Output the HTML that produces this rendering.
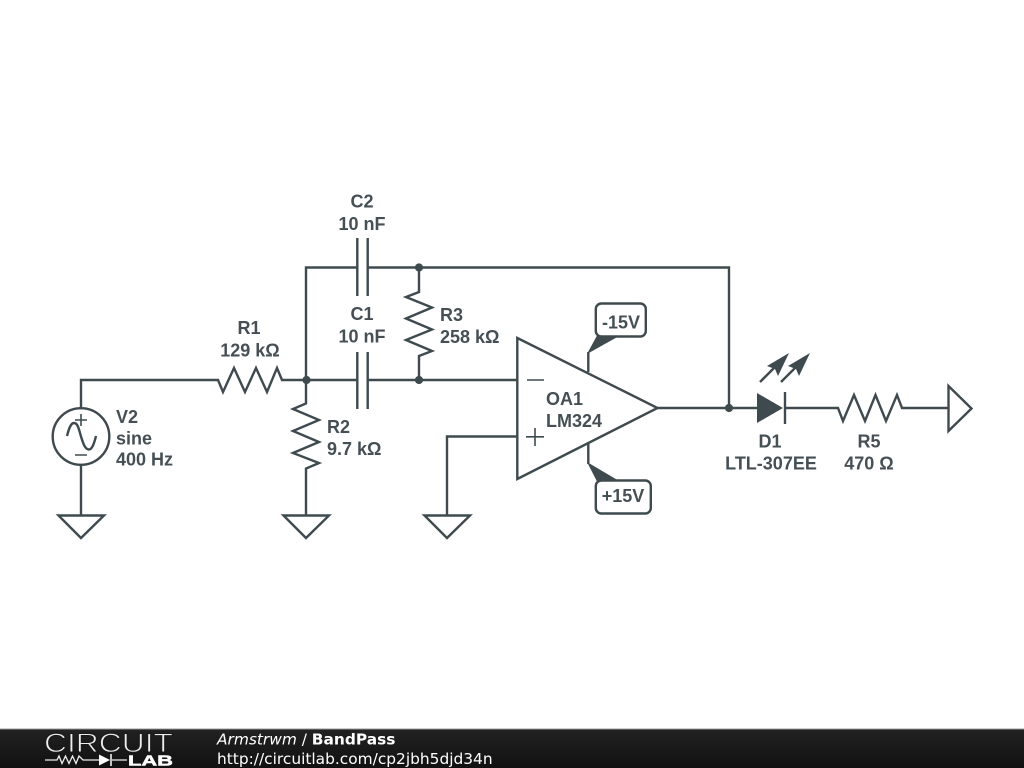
<!DOCTYPE html>
<html><head><meta charset="utf-8"><style>
html,body{margin:0;padding:0;background:#fff;width:1024px;height:768px;overflow:hidden}
svg{display:block}
.w{fill:none;stroke:#3f4a4f;stroke-width:2.4;stroke-linejoin:miter}
.n{fill:none;stroke:#3f4a4f;stroke-width:1.6}
.t{font-family:"Liberation Sans",sans-serif;font-weight:bold;font-size:18px;fill:#454f54}
.m{text-anchor:middle}
.f{font-family:"DejaVu Sans",sans-serif;font-size:15.4px;fill:#fff}
</style></head><body>
<svg width="1024" height="768" viewBox="0 0 1024 768" xmlns="http://www.w3.org/2000/svg">
<defs><linearGradient id="g" x1="0" y1="0" x2="0" y2="1"><stop offset="0" stop-color="#222"/><stop offset="1" stop-color="#111"/></linearGradient></defs>
<rect width="1024" height="768" fill="#fff"/>
<g class="w">
<path d="M81 408V380H218L223 392L234 368L245 392L256 368L267 392L277 368L282 380H357"/>
<path d="M368 380H517"/>
<path d="M306 380V267.500H357M368 267.500H729V408"/>
<path d="M357.300 238V296M367.700 238V296M357.300 352V409M367.700 352V409"/>
<path d="M306 380V403.500L293 409L319 420L293 431L319 442L293 453L319 463L306 468.500V515"/>
<path d="M419 267.500V292L406 297L432 307.500L406 318.500L432 329.500L406 340L432 351L419 356V380"/>
<circle cx="81" cy="436.500" r="28.300"/>
<path d="M81 465V515M58.500 515.500H104L81 538Z"/>
<path d="M283.500 515.500H329L306 538Z"/>
<path d="M517 436.500H447V515M424.500 515.500H470L447 538Z"/>
<path d="M67 436C69 428 71 423 74 423C78 423 79 430 81 436.500C83 443 85 449.500 89 449.500C92 449.500 94 444 96 436"/>
<path d="M517.300 338V479L657.500 408Z"/>
<path d="M588.300 372V352M588.300 444V464"/>
<path d="M657 408H757M785 408H838L843 421L854 395L865 421L875.500 395L886 421L897 395L902 408H948"/>
<path d="M785 392V424"/>
<path d="M948.500 386V431L971.500 408.500Z"/>
<path d="M760 382L778 364M781 382L799 364"/>
<rect x="595.800" y="303.500" width="50" height="33" rx="5.500" fill="#fff"/>
<rect x="595.800" y="480.500" width="55" height="33" rx="5.500" fill="#fff"/>
</g>
<path class="n" d="M81 414V426M75 420H87M75 455H87M527 380H544M526 436.800H544M535 428V446"/>
<g fill="#3f4a4f">
<circle cx="306.500" cy="380" r="4.100"/><circle cx="419" cy="267.500" r="4.100"/><circle cx="419" cy="380" r="4.100"/><circle cx="729" cy="408" r="4.100"/>
<path d="M757 393V423L783 408Z"/>
<path d="M587 354L597 335.500H620Z"/>
<path d="M587 462L597 481.500H620Z"/>
<path d="M789 353L767 366L775 369L778 376Z"/>
<path d="M810 353L788 366L796 369L799 376Z"/>
</g>
<text class="t m" x="362" y="207.500">C2</text>
<text class="t m" x="362" y="230">10 nF</text>
<text class="t m" x="362" y="320">C1</text>
<text class="t m" x="362" y="342.500">10 nF</text>
<text class="t m" x="249" y="334">R1</text>
<text class="t m" x="250" y="356.500">129 kΩ</text>
<text class="t" x="327" y="433">R2</text>
<text class="t" x="327" y="455">9.7 kΩ</text>
<text class="t" x="440" y="321">R3</text>
<text class="t" x="440" y="343">258 kΩ</text>
<text class="t" x="116" y="423">V2</text>
<text class="t" x="116" y="444.500">sine</text>
<text class="t" x="116" y="465.500">400 Hz</text>
<text class="t" x="546" y="405">OA1</text>
<text class="t" x="546" y="427">LM324</text>
<text class="t m" x="621" y="328.500">-15V</text>
<text class="t m" x="623" y="502">+15V</text>
<text class="t m" x="770" y="447.500">D1</text>
<text class="t m" x="771" y="469.500">LTL-307EE</text>
<text class="t m" x="869" y="447.500">R5</text>
<text class="t m" x="869" y="469.500">470 Ω</text>
<rect x="0" y="729" width="1024" height="39" fill="url(#g)"/>
<rect x="0" y="728.500" width="1024" height="1" fill="#999"/>
<text x="44" y="752" font-family="Liberation Sans,sans-serif" font-size="26.500" fill="#eee" stroke="#1a1a1a" stroke-width="0.9" textLength="129" lengthAdjust="spacingAndGlyphs">CIRCUIT</text>
<path d="M45 760H57L59 756L62 763.500L65.500 756L69 763.500L72.500 756L76 763.500L79 756L83 760H100M112 760H127" fill="none" stroke="#eee" stroke-width="1.300"/>
<path d="M99 754.500V765.500L110 760Z" fill="#fff"/><path d="M111 754V766" stroke="#fff" stroke-width="1.500"/>
<text x="128" y="765.500" font-family="Liberation Sans,sans-serif" font-weight="bold" font-size="15" fill="#fff" stroke="#fff" stroke-width="0.5" textLength="45" lengthAdjust="spacingAndGlyphs">LAB</text>
<text class="f" x="217" y="744.500"><tspan font-style="italic">Armstrwm</tspan> / <tspan font-weight="bold">BandPass</tspan></text>
<text class="f" x="217" y="764">http://circuitlab.com/cp2jbh5djd34n</text>
</svg>
</body></html>
